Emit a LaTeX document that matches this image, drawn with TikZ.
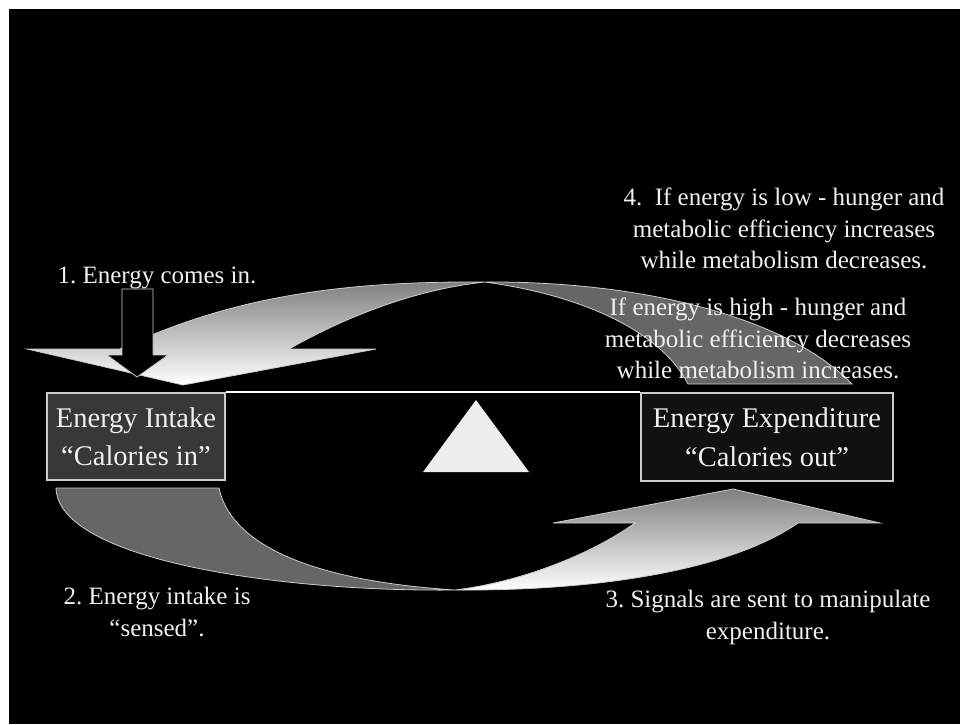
\documentclass[tikz,border=0pt]{standalone}
\usepackage{fontspec}
\setmainfont{Liberation Serif}
\usetikzlibrary{positioning}
\frenchspacing
\definecolor{bandgray}{HTML}{666666}
\definecolor{intakefill}{HTML}{383838}
\definecolor{expendfill}{HTML}{111111}
\definecolor{edgegray}{HTML}{CCCCCC}
\definecolor{textwhite}{HTML}{F0F0F0}
\definecolor{fulcrum}{HTML}{EEEEEE}

\begin{document}
\begin{tikzpicture}[x=1pt,y=-1pt,
    note/.style={text=textwhite,inner sep=0pt,align=center,font=\fontsize{25}{31.5}\selectfont},
    box/.style={draw=edgegray,line width=1.2pt,text=textwhite,align=center,inner sep=0pt,font=\fontsize{28.5}{38.5}\selectfont},
    band/.style={draw=edgegray,line width=0.8pt}]
    \useasboundingbox (0,0) rectangle (960,724);
    \fill[white] (0,0) rectangle (960,724);
    \fill[black] (9,9) rectangle (960,724);
    \filldraw[band,fill=bandgray]
        (485,282) .. controls (650,281) and (790,320) .. (852,384) -- (688,384)
        .. controls (660,330) and (580,295) .. (485,282) -- cycle;
    \shadedraw[band,top color=black!50,bottom color=white]
        (485,282) .. controls (340,281) and (230,297) .. (120,349) -- (27,349) -- (183,385) -- (376,349) -- (289,349)
        .. controls (340,320) and (410,290) .. (485,282) -- cycle;
    \filldraw[band,fill=bandgray]
        (56,488) -- (219,488) .. controls (230,540) and (300,580) .. (455,590)
        .. controls (280,592) and (58,560) .. (56,488) -- cycle;
    \shadedraw[band,top color=black!50,bottom color=white]
        (455,590) .. controls (600,591) and (730,570) .. (798,523) -- (880,523) -- (733,489) -- (553,523) -- (635,523)
        .. controls (590,555) and (520,582) .. (455,590) -- cycle;
    \node[box,fill=intakefill,minimum width=178pt,minimum height=87pt] (intake) at (136,436.5) {Energy Intake\\“Calories in”};
    \node[box,fill=expendfill,minimum width=252pt,minimum height=88pt] (expend) at (767,437) {Energy Expenditure\\“Calories out”};
    \draw[white,line width=2pt] (intake.north east) -- (expend.north west);
    \fill[fulcrum] (476,400) -- (529,472) -- (423,472) -- cycle;
    \filldraw[band,fill=black] (122,289) -- (153,289) -- (153,355) -- (168,355) -- (137,377) -- (107,355) -- (122,355) -- cycle;
    \node[note,anchor=base] (comesin) at (157,283) {1. Energy comes in.};
    \node[note,anchor=north] (lowenergy) at (784,188) {4.\ \ If energy is low - hunger and\\metabolic efficiency increases\\while metabolism decreases.};
    \node[note,anchor=north] (highenergy) at (758,298) {If energy is high - hunger and\\metabolic efficiency decreases\\while metabolism increases.};
    \node[note,anchor=north] (sensed) at (157,587) {2. Energy intake is\\“sensed”.};
    \node[note,anchor=north] (signals) at (768,590) {3. Signals are sent to manipulate\\expenditure.};
\end{tikzpicture}
\end{document}
